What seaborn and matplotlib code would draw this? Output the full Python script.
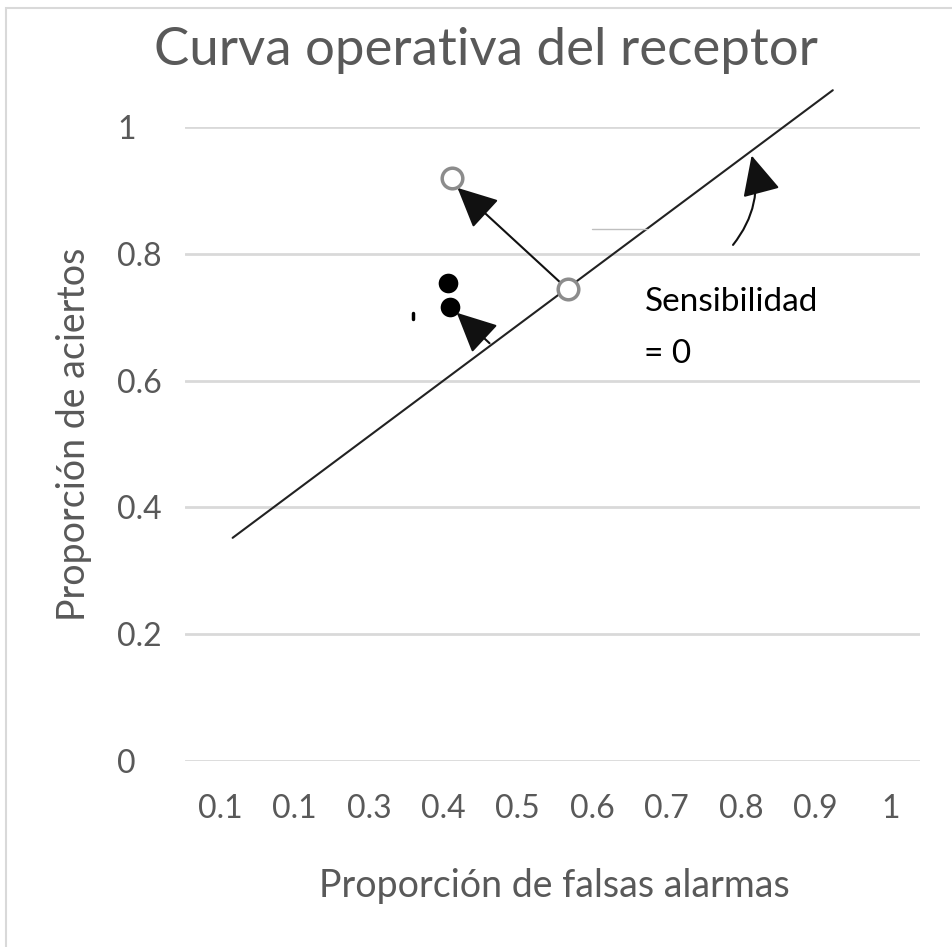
import matplotlib
matplotlib.use("Agg")
import matplotlib.pyplot as plt
import matplotlib.patches as mpatches
import pandas as pd
import seaborn as sns

# tick positions / labels (as shown in the original, including the repeated 0.1)
x_ticks = [0.1, 0.2, 0.3, 0.4, 0.5, 0.6, 0.7, 0.8, 0.9, 1.0]
x_labels = ["0.1", "0.1", "0.3", "0.4", "0.5", "0.6", "0.7", "0.8", "0.9", "1"]
y_ticks = [0, 0.2, 0.4, 0.6, 0.8, 1.0]
y_labels = ["0", "0.2", "0.4", "0.6", "0.8", "1"]

# diagonal criterion line
diag_x = [0.117, 0.923]
diag_y = [0.352, 1.058]

# open and filled points
open_x = [0.411, 0.567]
open_y = [0.920, 0.744]
filled_x = [0.406, 0.409]
filled_y = [0.754, 0.716]

# arrows: tail -> head
arrow_tail_1 = (0.567, 0.744)
arrow_head_1 = (0.419, 0.904)
arrow_tail_2 = (0.462, 0.659)
arrow_head_2 = (0.418, 0.707)
arrow_tail_3 = (0.789, 0.814)
arrow_head_3 = (0.814, 0.955)


def main():
    sns.set_theme(style="white")
    plt.rcParams["font.family"] = ["Lato", "DejaVu Sans"]
    grey = "#595959"

    fig = plt.figure(figsize=(9.52, 9.47), dpi=100)
    ax = fig.add_axes([0.1943, 0.1964, 0.772, 0.6695])

    # outer chart border
    fig.patches.append(mpatches.Rectangle((0.006, -0.01), 1.02, 1.002, transform=fig.transFigure,
                                          fill=False, edgecolor="#d9d9d9", linewidth=1.5))

    for yv in y_ticks:
        ax.axhline(yv, color="#d9d9d9", linewidth=2, zorder=0)

    diag = pd.DataFrame({"x": diag_x, "y": diag_y})
    sns.lineplot(data=diag, x="x", y="y", ax=ax, color="#222222", linewidth=1.5, clip_on=False)

    head = "-|>,head_length=1.25,head_width=0.6"
    ax.annotate("", xy=arrow_head_1, xytext=arrow_tail_1,
                arrowprops=dict(arrowstyle=head, color="#111111", lw=1.5,
                                mutation_scale=20, shrinkA=8, shrinkB=0))
    ax.annotate("", xy=arrow_head_2, xytext=arrow_tail_2,
                arrowprops=dict(arrowstyle=head, color="#111111", lw=1.5,
                                mutation_scale=20, shrinkA=0, shrinkB=0))
    ax.annotate("", xy=arrow_head_3, xytext=arrow_tail_3,
                arrowprops=dict(arrowstyle=head, color="#111111", lw=1.5,
                                mutation_scale=20, shrinkA=0, shrinkB=0,
                                connectionstyle="arc3,rad=0.25"))

    pts_open = pd.DataFrame({"x": open_x, "y": open_y})
    sns.scatterplot(data=pts_open, x="x", y="y", ax=ax, s=220, color="white",
                    edgecolor="#8c8c8c", linewidth=2.5, zorder=5, clip_on=False)
    pts_fill = pd.DataFrame({"x": filled_x, "y": filled_y})
    sns.scatterplot(data=pts_fill, x="x", y="y", ax=ax, s=200, color="black",
                    edgecolor="black", linewidth=0, zorder=5)

    # small stray marks from the original drawing
    ax.plot([0.359, 0.359], [0.697, 0.707], color="black", linewidth=2.5)
    ax.plot([0.599, 0.674], [0.839, 0.839], color="#bfbfbf", linewidth=1)

    ax.text(0.670, 0.724, "Sensibilidad", fontsize=24, color="black", ha="left", va="center")
    ax.text(0.670, 0.642, "= 0", fontsize=24, color="black", ha="left", va="center")

    ax.set_xlim(0.053, 1.04)
    ax.set_ylim(0, 1)
    ax.set_xticks(x_ticks)
    ax.set_xticklabels(x_labels)
    ax.set_yticks(y_ticks)
    ax.set_yticklabels(y_labels, ha="left")
    ax.tick_params(axis="both", length=0, labelsize=23, labelcolor=grey)
    ax.tick_params(axis="x", pad=24)
    ax.tick_params(axis="y", pad=49)
    for s in ax.spines.values():
        s.set_visible(False)

    ax.set_xlabel("Proporción de falsas alarmas", fontsize=27, color=grey)
    ax.set_ylabel("Proporción de aciertos", fontsize=27, color=grey)
    ax.xaxis.set_label_coords(0.503, -0.168)
    ax.yaxis.set_label_coords(-0.1265, 0.516)
    fig.text(0.51, 0.947, "Curva operativa del receptor", fontsize=38, color=grey,
             ha="center", va="center")

    fig.savefig("out.png", dpi=100)


if __name__ == "__main__":
    main()
